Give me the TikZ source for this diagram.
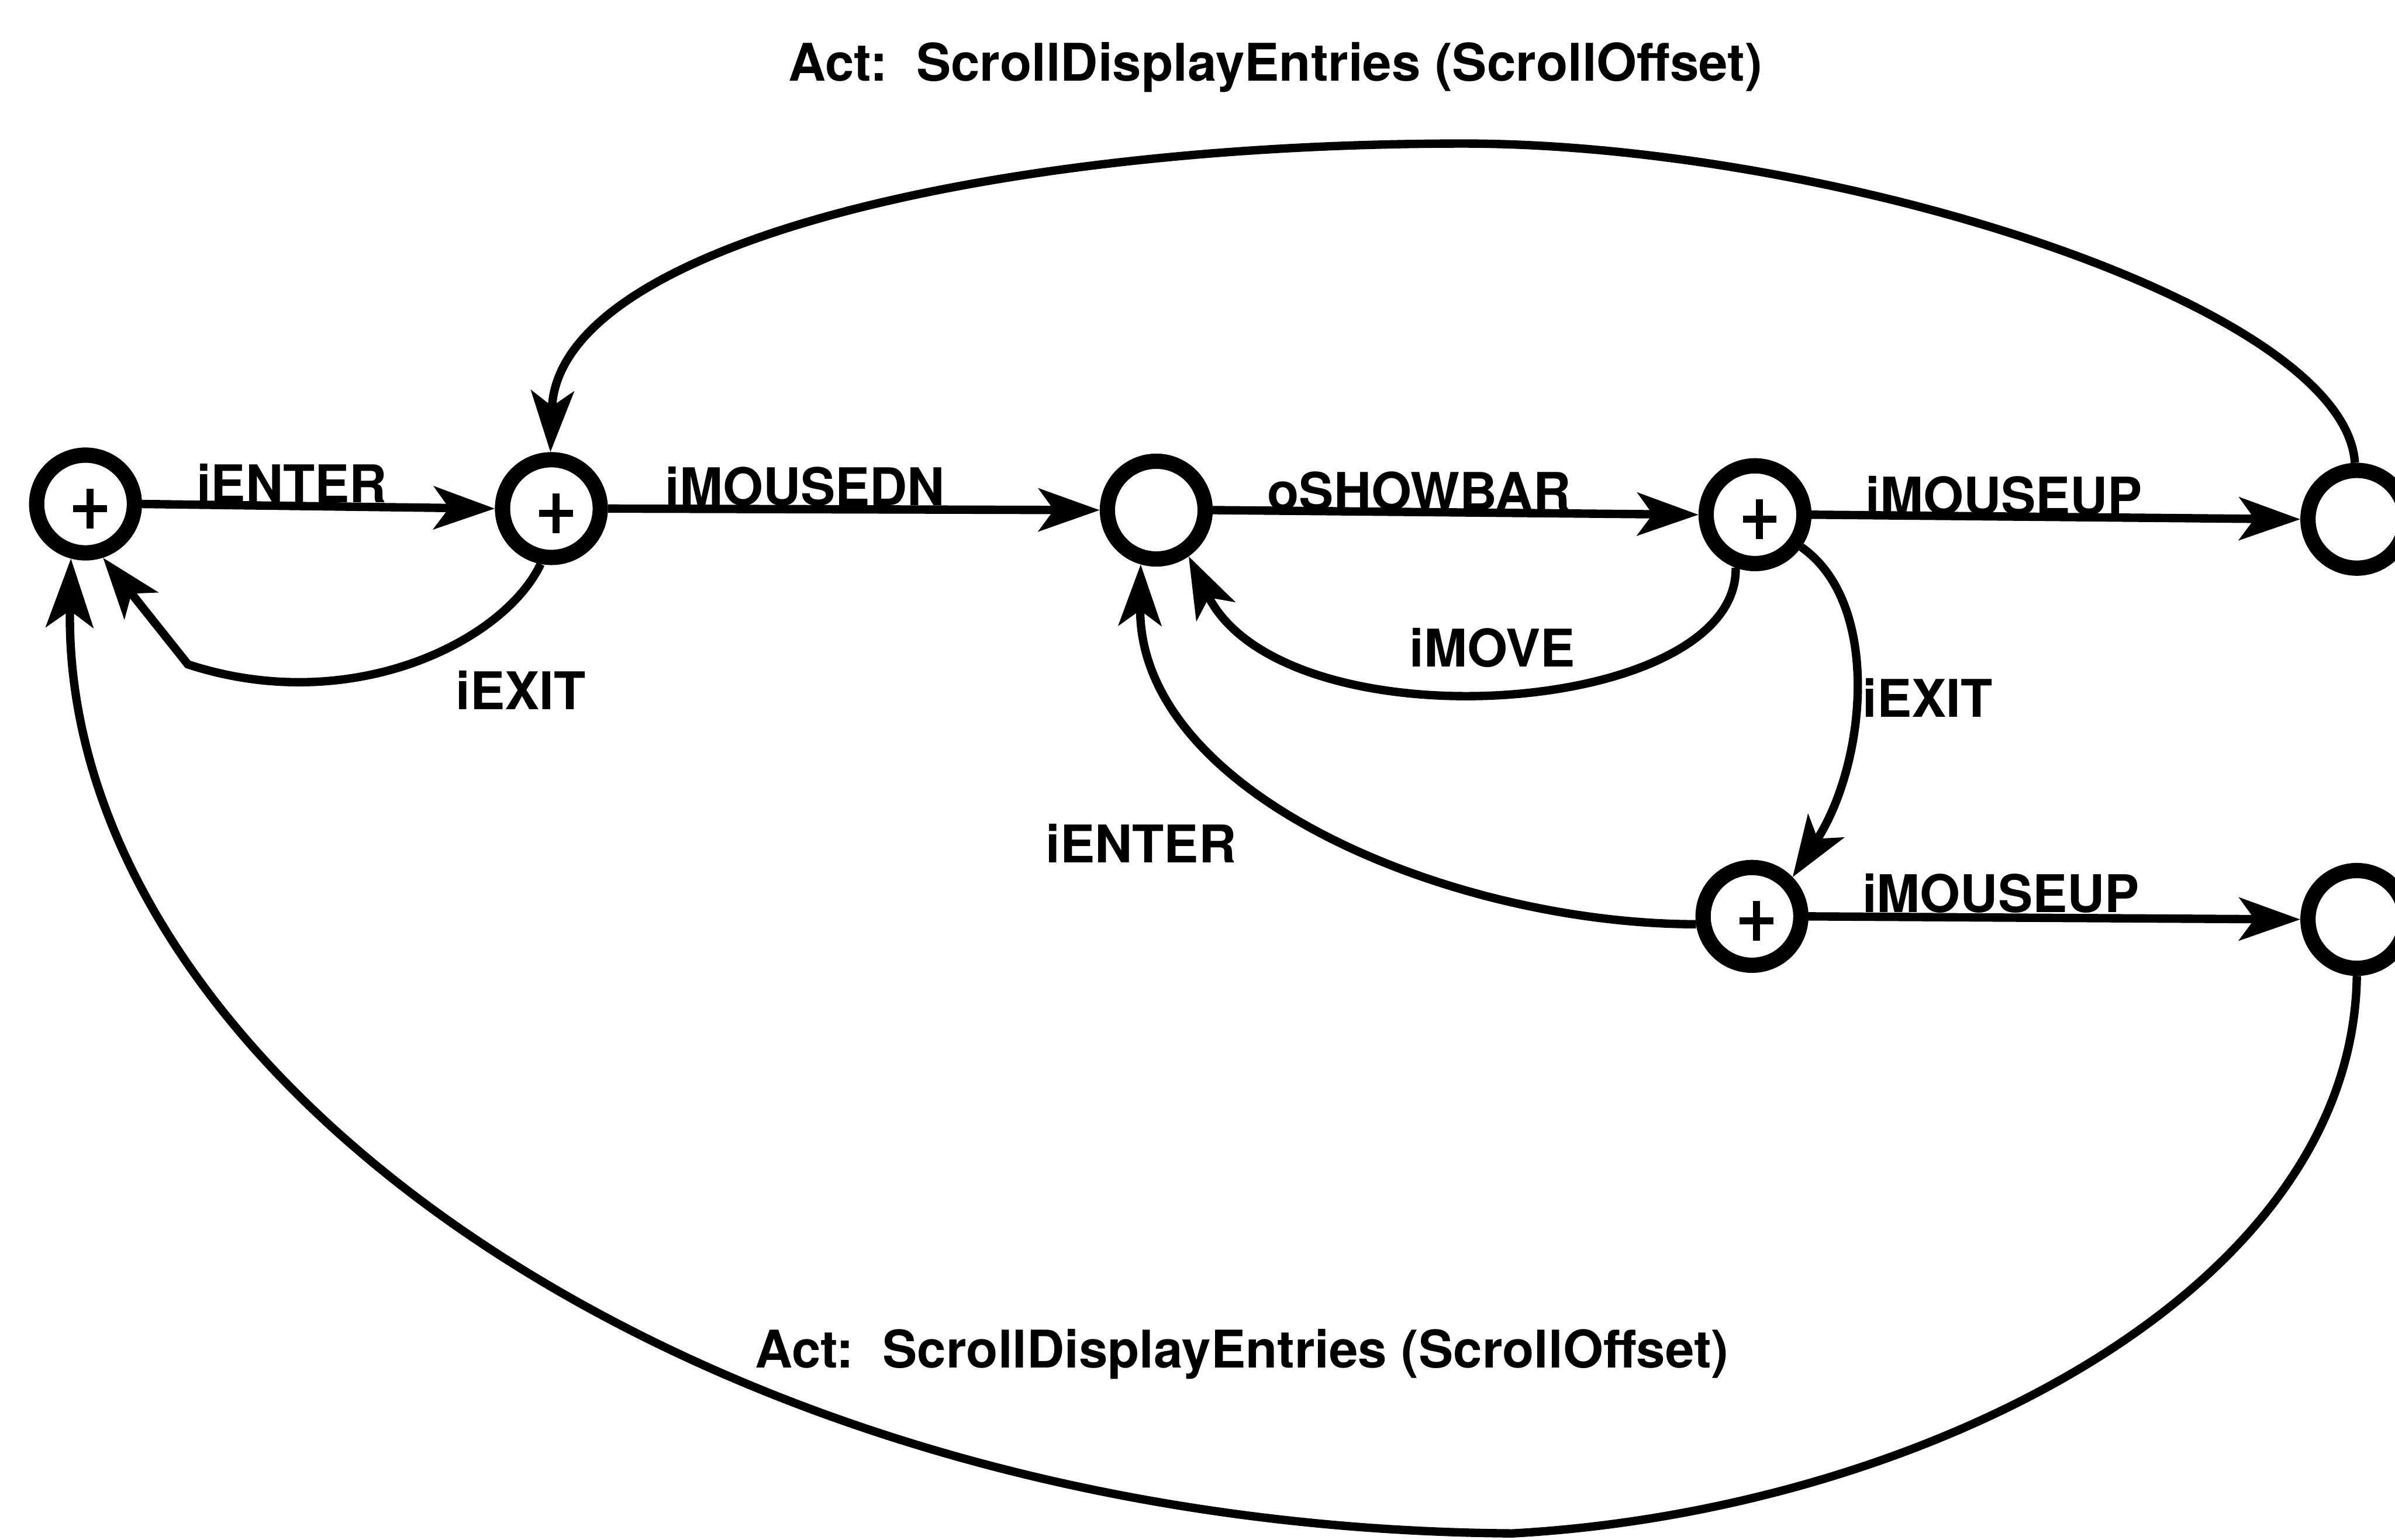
\documentclass[tikz,border=0pt]{standalone}
\usepackage{fontspec}
\setmainfont{TeX Gyre Heros}
\usetikzlibrary{arrows.meta}
\begin{document}
\begin{tikzpicture}[x=1pt,y=-1pt,
  state/.style={circle,draw,line width=10pt,minimum size=64pt,inner sep=0pt},
  plusstate/.style={state,path picture={
     \draw[line width=4.5pt]
       ([xshift=-8pt,yshift=-3pt]path picture bounding box.center) --
       ([xshift=14pt,yshift=-3pt]path picture bounding box.center);
     \draw[line width=4.5pt]
       ([xshift=3pt,yshift=10pt]path picture bounding box.center) --
       ([xshift=3pt,yshift=-16pt]path picture bounding box.center);}},
  arr/.style={line width=5.5pt,-{Stealth[length=40pt,width=28pt,inset=10pt]}},
  bigarr/.style={line width=5.5pt,-{Stealth[length=45pt,width=31pt,inset=11pt]}},
  lbl/.style={font=\bfseries\fontsize{34}{40}\selectfont,inner sep=0pt,anchor=base}]

% page area
\fill[white] (0,0) rectangle (1568,1008);
\clip (0,0) rectangle (1568,1008);

% states
\node[plusstate] (A) at (56,330) {};
\node[plusstate] (B) at (361,333) {};
\node[state]     (C) at (757,334) {};
\node[plusstate] (D) at (1149,337) {};
\node[state]     (E) at (1543,340) {};
\node[plusstate] (F) at (1147,600) {};
\node[state]     (G) at (1543,602) {};

% bend points of the long connectors
\coordinate (kink) at (123,435);
\coordinate (topmid) at (958,94);
\coordinate (botmid) at (990,1004);

% straight transitions
\draw[arr] (A.east) -- (B.west);
\draw[arr] (B.east) -- (C.west);
\draw[arr] (C.east) -- (D.west);
\draw[arr] (D.east) -- (E.west);
\draw[arr] (F.east) -- (G.west);

% curved transitions
\draw[arr] (B.-101) .. controls (330,420) and (230,470) .. (kink) -- (A.-72);
\draw[arr] (D.-110) .. controls (1138,470) and (840,490) .. (C.-55);
\draw[arr] (D.-35) .. controls (1232,395) and (1222,500) .. (F.44);
\draw[arr] (F.188) .. controls (950,605) and (745,520) .. (C.-106);
\draw[arr] (E.92) .. controls (1535,200) and (1200,94) .. (topmid)
                  .. controls (650,94) and (365,160) .. (B.91);
\draw[bigarr] (G.-90) .. controls (1540,850) and (1250,990) .. (botmid)
                  .. controls (450,1000) and (40,700) .. (A.-105);

% labels
\node[lbl] (title)  at (835,53)    {Act:\ \ ScrollDisplayEntries (ScrollOffset)};
\node[lbl] (act2)   at (813,895.5) {Act:\ \ ScrollDisplayEntries (ScrollOffset)};
\node[lbl] (l1)     at (191,329)   {iENTER};
\node[lbl] (l2)     at (527,331)   {iMOUSEDN};
\node[lbl] (l3)     at (929,334)   {oSHOWBAR};
\node[lbl] (l4)     at (1312,337)  {iMOUSEUP};
\node[lbl] (l5)     at (1310,597.5){iMOUSEUP};
\node[lbl] (l6)     at (341,464.5) {iEXIT};
\node[lbl] (l7)     at (977,436.5) {iMOVE};
\node[lbl] (l8)     at (1262,469.5){iEXIT};
\node[lbl] (l9)     at (747,565)   {iENTER};
\end{tikzpicture}
\end{document}
